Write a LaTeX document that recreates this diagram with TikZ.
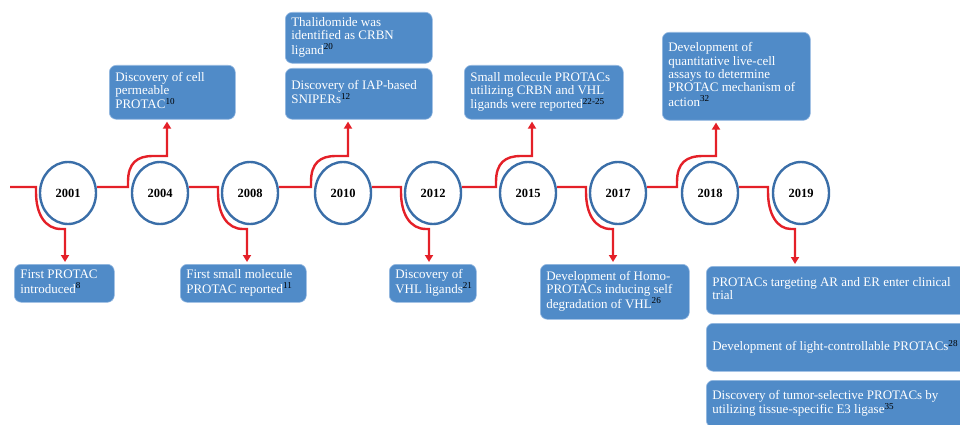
\documentclass[tikz,border=0pt]{standalone}
\usepackage{fontspec}
\setmainfont{Liberation Serif}
\usetikzlibrary{shapes.geometric,arrows.meta}
\definecolor{boxblue}{RGB}{80,139,200}
\definecolor{boxedge}{RGB}{150,185,225}
\definecolor{ringblue}{RGB}{58,110,168}
\definecolor{tlred}{RGB}{228,32,40}
\newcommand\refsup[1]{\textsuperscript{\color{black}#1}}
\newcommand\boxtext[2]{\makebox[#1][l]{\begin{tabular}{@{}l@{}}#2\end{tabular}}}
\begin{document}
\begin{tikzpicture}[x=1pt,y=-1pt,
  year/.style={ellipse,draw=ringblue,line width=2.4pt,fill=white,minimum width=56pt,minimum height=62pt,inner sep=0pt,font=\fontsize{12.5}{14}\selectfont\bfseries},
  evbox/.style={rectangle,rounded corners=7pt,fill=boxblue,draw=boxedge,line width=0.6pt,text=white,anchor=north west,inner xsep=6pt,inner ysep=0pt,font=\fontsize{13}{13.3}\selectfont},
  tl/.style={draw=tlred,line width=2.4pt},
  tlarrow/.style={tl,-{Triangle[width=8pt,length=7pt]},shorten >=2pt}
]
\useasboundingbox (0,0) rectangle (960,425);
\clip (0,0) rectangle (960,425);

% year circles
\node[year] (y2001) at (68,193) {2001};
\node[year] (y2004) at (160,193) {2004};
\node[year] (y2008) at (250,193) {2008};
\node[year] (y2010) at (343,193) {2010};
\node[year] (y2012) at (433,193) {2012};
\node[year] (y2015) at (528,193) {2015};
\node[year] (y2017) at (618,193) {2017};
\node[year] (y2018) at (710,193) {2018};
\node[year] (y2019) at (801,193) {2019};

% event boxes
\node[evbox,minimum width=100pt,minimum height=38pt] (b2001) at (14,264)
  {\boxtext{88pt}{First PROTAC\\introduced\refsup{8}}};
\node[evbox,minimum width=126pt,minimum height=54pt] (b2004) at (109,65)
  {\boxtext{114pt}{Discovery of cell\\permeable\\PROTAC\refsup{10}}};
\node[evbox,minimum width=126pt,minimum height=38pt] (b2008) at (180,264)
  {\boxtext{114pt}{First small molecule\\PROTAC reported\refsup{11}}};
\node[evbox,minimum width=147pt,minimum height=51pt] (b2010a) at (285,12)
  {\boxtext{135pt}{Thalidomide was\\identified as CRBN\\ligand\refsup{20}}};
\node[evbox,minimum width=147pt,minimum height=51pt] (b2010) at (285,68)
  {\boxtext{135pt}{Discovery of IAP-based\\SNIPERs\refsup{12}}};
\node[evbox,minimum width=87pt,minimum height=38pt] (b2012) at (389,264)
  {\boxtext{75pt}{Discovery of\\VHL ligands\refsup{21}}};
\node[evbox,minimum width=159pt,minimum height=54pt] (b2015) at (464,65)
  {\boxtext{147pt}{Small molecule PROTACs\\utilizing CRBN and VHL\\ligands were reported\refsup{22-25}}};
\node[evbox,minimum width=149pt,minimum height=55pt] (b2017) at (540,264)
  {\boxtext{137pt}{Development of Homo-\\PROTACs inducing self\\degradation of VHL\refsup{26}}};
\node[evbox,minimum width=148pt,minimum height=88pt] (b2018) at (662,32)
  {\boxtext{136pt}{Development of\\quantitative live-cell\\assays to determine\\PROTAC mechanism of\\action\refsup{32}}};
\node[evbox,minimum width=262pt,minimum height=48pt] (b2019) at (706,266)
  {\boxtext{250pt}{PROTACs targeting AR and ER enter clinical\\trial}};
\node[evbox,minimum width=262pt,minimum height=48pt] (b2019b) at (706,323)
  {\boxtext{250pt}{Development of light-controllable PROTACs\refsup{28}}};
\node[evbox,minimum width=262pt,minimum height=47pt] (b2019c) at (706,380)
  {\boxtext{250pt}{Discovery of tumor-selective PROTACs by\\utilizing tissue-specific E3 ligase\refsup{35}}};

% timeline turn points
\coordinate (start) at (10,187);
\coordinate (t2001) at (65,229);
\coordinate (t2004) at (167,156);
\coordinate (t2008) at (247,229);
\coordinate (t2010) at (348,156);
\coordinate (t2012) at (429,229);
\coordinate (t2015) at (532,156);
\coordinate (t2017) at (613,229);
\coordinate (t2018) at (716,156);
\coordinate (t2019) at (795,229);

% timeline with branches to boxes
\draw[tlarrow] (start) -- (36,187) -- (36,192) .. controls (36,214) and (45,229) .. (61,229) -- (t2001) -- (b2001.north -| t2001);
\draw[tlarrow] (y2001.east |- start) -- (128,187) -- (128,182) .. controls (128,163) and (137,156) .. (153,156) -- (t2004) -- (b2004.south -| t2004);
\draw[tlarrow] (y2004.east |- start) -- (218,187) -- (218,192) .. controls (218,214) and (227,229) .. (243,229) -- (t2008) -- (b2008.north -| t2008);
\draw[tlarrow] (y2008.east |- start) -- (311,187) -- (311,182) .. controls (311,163) and (320,156) .. (336,156) -- (t2010) -- (b2010.south -| t2010);
\draw[tlarrow] (y2010.east |- start) -- (401,187) -- (401,192) .. controls (401,214) and (410,229) .. (426,229) -- (t2012) -- (b2012.north -| t2012);
\draw[tlarrow] (y2012.east |- start) -- (496,187) -- (496,182) .. controls (496,163) and (505,156) .. (521,156) -- (t2015) -- (b2015.south -| t2015);
\draw[tlarrow] (y2015.east |- start) -- (586,187) -- (586,192) .. controls (586,214) and (595,229) .. (611,229) -- (t2017) -- (b2017.north -| t2017);
\draw[tlarrow] (y2017.east |- start) -- (677,187) -- (677,182) .. controls (677,163) and (686,156) .. (703,156) -- (t2018) -- (b2018.south -| t2018);
\draw[tlarrow] (y2018.east |- start) -- (768,187) -- (768,192) .. controls (768,214) and (777,229) .. (791,229) -- (t2019) -- (b2019.north -| t2019);
\end{tikzpicture}
\end{document}
